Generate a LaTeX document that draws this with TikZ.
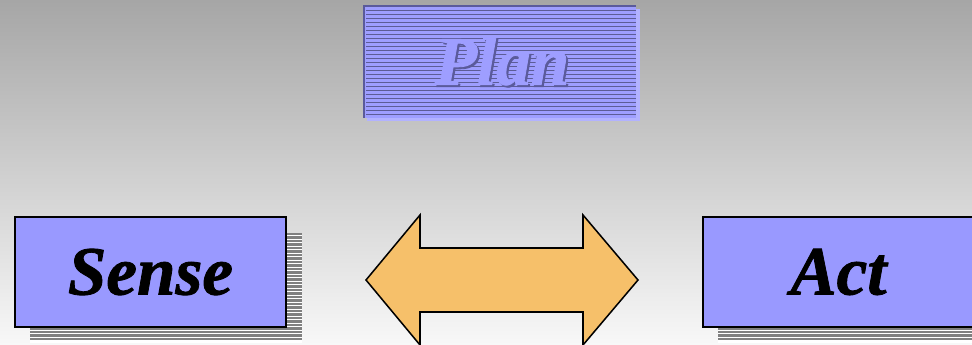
\documentclass[tikz,border=0pt]{standalone}
\usepackage{fontspec}
\setmainfont{Liberation Serif}[BoldItalicFeatures={FakeBold=1.2}]
\usetikzlibrary{positioning}

\definecolor{boxblue}{RGB}{153,153,255}
\definecolor{planblue}{RGB}{158,158,255}
\definecolor{planline}{RGB}{92,92,150}
\definecolor{planframe}{RGB}{90,90,155}
\definecolor{planglow}{RGB}{178,178,255}
\definecolor{arrowfill}{RGB}{246,192,106}
\definecolor{bgtop}{RGB}{166,166,166}
\definecolor{bgbottom}{RGB}{248,248,248}
\definecolor{stripegray}{RGB}{128,128,128}

\begin{document}
\begin{tikzpicture}[x=0.03cm, y=-0.03cm, every node/.style={outer sep=0pt, inner sep=0pt},
        labelfont/.style={font=\fontsize{59}{61}\selectfont\bfseries\itshape},
        boxnode/.style={draw=black, line width=1.7pt, fill=boxblue, minimum width=8.13cm, minimum height=3.3cm, labelfont},
        stripe/.style={fill=stripegray}]
        % background
        \shade[top color=bgtop, bottom color=bgbottom] (0,0) rectangle (972,345);
        \useasboundingbox (0,0) rectangle (972,345);

        % plan box
        \fill[planglow] (367,9) rectangle (640,121);
        \node (planbox) [fill=planblue, minimum width=8.16cm, minimum height=3.36cm] at (500,62) {};
        \foreach \y in {11,15,...,115}
            \draw[planline, line width=0.85pt] (366,\y) -- (636,\y);
        \draw[planframe, line width=1.7pt] (planbox.south west) -- (planbox.north west) -- (planbox.north east);
        \node (planshade) [labelfont, text=planframe] at (504,63) {Plan};
        \node (plan) [labelfont, text=planblue] at (502,61) {Plan};

        % shadows
        \fill[white] (30,233) rectangle (302,343);
        \foreach \y in {233,236.5,...,341}
            \fill[stripe] (30,\y) rectangle (302,\y+2.5);
        \fill[white] (718,233) rectangle (990,343);
        \foreach \y in {233,236.5,...,341}
            \fill[stripe] (718,\y) rectangle (990,\y+2.5);

        % sense and act
        \node (sense) [boxnode] at (150.5,272) {Sense};
        \node (act) [boxnode] at (838.5,272) {Act};

        % double arrow
        \draw[fill=arrowfill, line width=1.3pt, line join=miter]
            (366,280) -- (420,215) -- (420,248) -- (583,248) -- (583,215) -- (638,280)
            -- (583,345) -- (583,312) -- (420,312) -- (420,345) -- cycle;
    \end{tikzpicture}
\end{document}
